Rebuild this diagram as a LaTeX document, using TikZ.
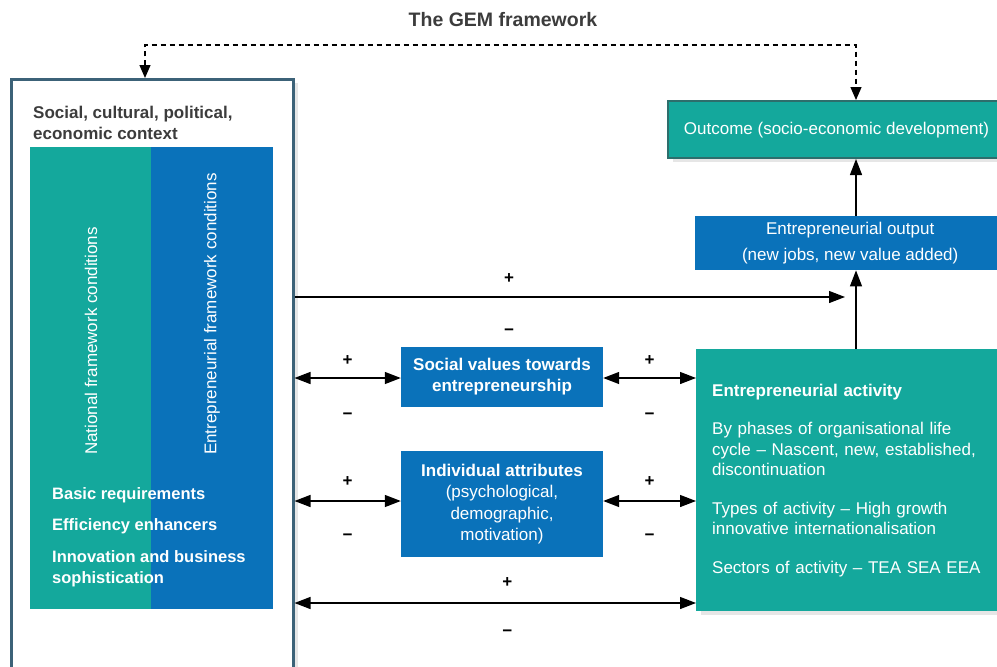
\documentclass[tikz,border=0pt]{standalone}
\usepackage{fontspec}
\setmainfont{Liberation Sans}
\usetikzlibrary{arrows.meta,shadows,calc}

\definecolor{gemteal}{RGB}{20,168,156}
\definecolor{gemblue}{RGB}{10,114,186}
\definecolor{gemslate}{RGB}{60,98,120}
\definecolor{gemdark}{RGB}{45,110,108}
\definecolor{gemtext}{RGB}{60,60,60}

\tikzset{
  tealbox/.style={fill=gemteal, text=white, inner sep=0pt},
  bluebox/.style={fill=gemblue, text=white, inner sep=0pt, align=center},
  link/.style={line width=1.3pt, -{Triangle[length=16pt,width=12pt]}},
  twoway/.style={line width=1.3pt, {Triangle[length=16pt,width=12pt]}-{Triangle[length=16pt,width=12pt]}},
  feedback/.style={line width=1.2pt, dash pattern=on 5pt off 4pt, {Triangle[length=13pt,width=11pt]}-{Triangle[length=13pt,width=11pt]}},
  sign/.style={font=\bfseries\fontsize{17}{17}\selectfont, inner sep=0pt},
  boxshadow/.style={drop shadow={shadow xshift=5pt, shadow yshift=-4pt, opacity=.2}},
}

\begin{document}
\begin{tikzpicture}[x=1pt, y=-1pt, font=\fontsize{17}{20}\selectfont]
  \useasboundingbox (0,0) rectangle (997,667);
  \clip (0,0) rectangle (997,667);
  % Title
  \node[font=\bfseries\fontsize{19.5}{22}\selectfont, text=gemtext] (title) at (503,20) {The GEM framework};

  % Context
  \node[draw=gemslate, line width=2.5pt, fill=white, boxshadow, minimum width=282, minimum height=640, anchor=north west, inner sep=0pt] (ctx) at (10,78) {};
  \node[anchor=north west, align=left, text=gemtext, font=\bfseries\fontsize{17}{21}\selectfont, inner sep=0pt] (ctxtitle) at (33,106) {Social, cultural, political,\\economic context};

  % Framework conditions
  \node[tealbox, minimum width=124, minimum height=462, anchor=north west] (nfc) at (30,147) {};
  \node[bluebox, minimum width=122, minimum height=462, anchor=north west] (efc) at (151,147) {};
  \node[rotate=90, anchor=west, text=white, inner sep=0pt] (nfclabel) at (91,455) {National framework conditions};
  \node[rotate=90, anchor=west, text=white, inner sep=0pt] (efclabel) at (212,455) {Entrepreneurial framework conditions};
  \node[anchor=north west, align=left, text=white, font=\bfseries\fontsize{16.5}{21}\selectfont, inner sep=0pt] (pillars) at (52,487) {Basic requirements\\[10pt]Efficiency enhancers\\[11pt]Innovation and business\\sophistication};

  % Outcome and output
  \node[tealbox, draw=gemdark, line width=2pt, boxshadow, minimum width=337, minimum height=57, text depth=2pt, anchor=north west] (out) at (667,100) {Outcome (socio-economic development)};
  \node[bluebox, minimum width=310, minimum height=54, anchor=north west, font=\fontsize{17}{26}\selectfont] (outp) at (695,216) {Entrepreneurial output\\(new jobs, new value added)};

  % Entrepreneurial activity
  \node[tealbox, boxshadow, minimum width=314, minimum height=262, anchor=north west, align=left, text width=290, inner xsep=16pt, font=\fontsize{17}{20.5}\selectfont] (act) at (696,349) {\textbf{Entrepreneurial activity}\\[18pt]By phases of organisational life\\cycle -- Nascent, new, established,\\discontinuation\\[18pt]Types of activity -- High growth\\innovative internationalisation\\[18pt]Sectors of activity -- TEA SEA EEA};

  % Middle boxes
  \node[bluebox, font=\bfseries\fontsize{17}{21}\selectfont, minimum width=202, minimum height=60] (soc) at (502,377) {Social values towards\\entrepreneurship};
  \node[bluebox, font=\fontsize{17}{21.5}\selectfont, minimum width=202, minimum height=106] (ind) at (502,504) {\textbf{Individual attributes}\\(psychological,\\demographic,\\motivation)};

  % Links
  \coordinate (spine) at (856,0);
  \coordinate (row0) at (0,297);
  \coordinate (row1) at (0,378);
  \coordinate (row2) at (0,501);
  \coordinate (row3) at (0,603);
  \coordinate (loop) at (500,45);
  \draw[link] (outp.north -| spine) -- (out.south -| spine);
  \draw[link] (act.north -| spine) -- (outp.south -| spine);
  \draw[link] (ctx.east |- row0) -- node[sign, pos=.39, yshift=18pt]{+} node[sign, pos=.39, yshift=-35pt]{−} ($(spine |- row0)+(-11,0)$);
  \draw[twoway] (ctx.east |- row1) -- node[sign, yshift=17pt]{+} node[sign, yshift=-38pt]{−} (soc.west |- row1);
  \draw[twoway] (soc.east |- row1) -- node[sign, yshift=17pt]{+} node[sign, yshift=-38pt]{−} (act.west |- row1);
  \draw[twoway] (ctx.east |- row2) -- node[sign, yshift=19pt]{+} node[sign, yshift=-36pt]{−} (ind.west |- row2);
  \draw[twoway] (ind.east |- row2) -- node[sign, yshift=19pt]{+} node[sign, yshift=-36pt]{−} (act.west |- row2);
  \draw[twoway] (ctx.east |- row3) -- node[sign, pos=.53, yshift=20pt]{+} node[sign, pos=.53, yshift=-30pt]{−} (act.west |- row3);
  % Feedback loop
  \draw[feedback] ($(ctx.north west)+(135,0)$) |- (loop) -| (out.north -| spine);
\end{tikzpicture}
\end{document}
